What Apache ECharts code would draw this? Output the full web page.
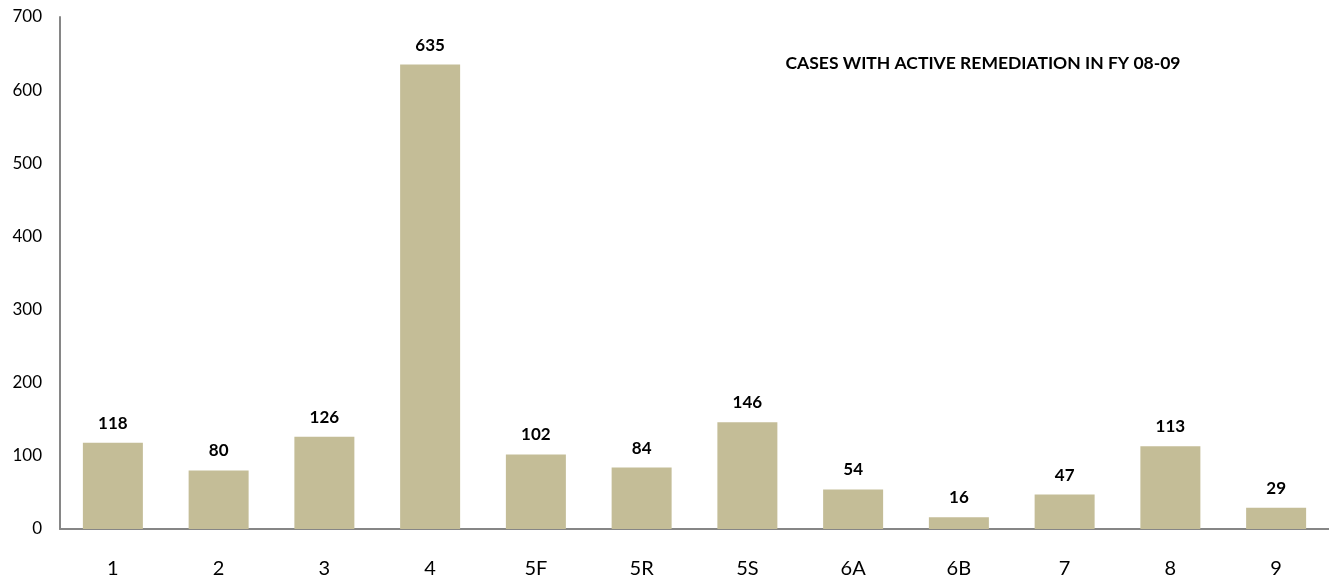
<!DOCTYPE html>
<html><head><meta charset="utf-8">
<script src="https://cdn.jsdelivr.net/npm/echarts@6/dist/echarts.min.js"></script>
<style>html,body{margin:0;padding:0;background:#fff}#c{width:1329px;height:579px}</style>
</head><body><div id="c"></div>
<script>
const categories = ['1','2','3','4','5F','5R','5S','6A','6B','7','8','9'];
const values = [118,80,126,635,102,84,146,54,16,47,113,29];
const yTicks = [0,100,200,300,400,500,600,700];
const titleText = 'CASES WITH ACTIVE REMEDIATION IN FY 08-09';
const chart = echarts.init(document.getElementById('c'));
chart.setOption({
  animation:false,
  title:{text:titleText,left:978,top:49,textAlign:'center',textStyle:{fontFamily:'Lato',fontSize:17.5,fontWeight:'bold',color:'#000'}},
  grid:{left:60,top:17,width:1278,height:514,containLabel:false},
  xAxis:{type:'category',data:categories,axisLine:{lineStyle:{color:'#868686',width:2}},axisTick:{show:false},
    axisLabel:{fontFamily:'Lato',fontSize:20,color:'#000',margin:30}},
  yAxis:{type:'value',min:0,max:700,interval:100,splitLine:{show:false},
    axisLine:{show:true,lineStyle:{color:'#868686',width:2}},axisTick:{show:false},
    axisLabel:{fontFamily:'Lato',fontSize:17,color:'#000',margin:18,
      formatter:v=>yTicks.includes(v)?String(v):''}},
  series:[{type:'bar',data:values,barWidth:60,itemStyle:{color:'#C4BD97'},
    label:{show:true,position:'top',distance:11,fontFamily:'Lato',fontSize:17,fontWeight:'bold',color:'#000'}}]
});
</script></body></html>
